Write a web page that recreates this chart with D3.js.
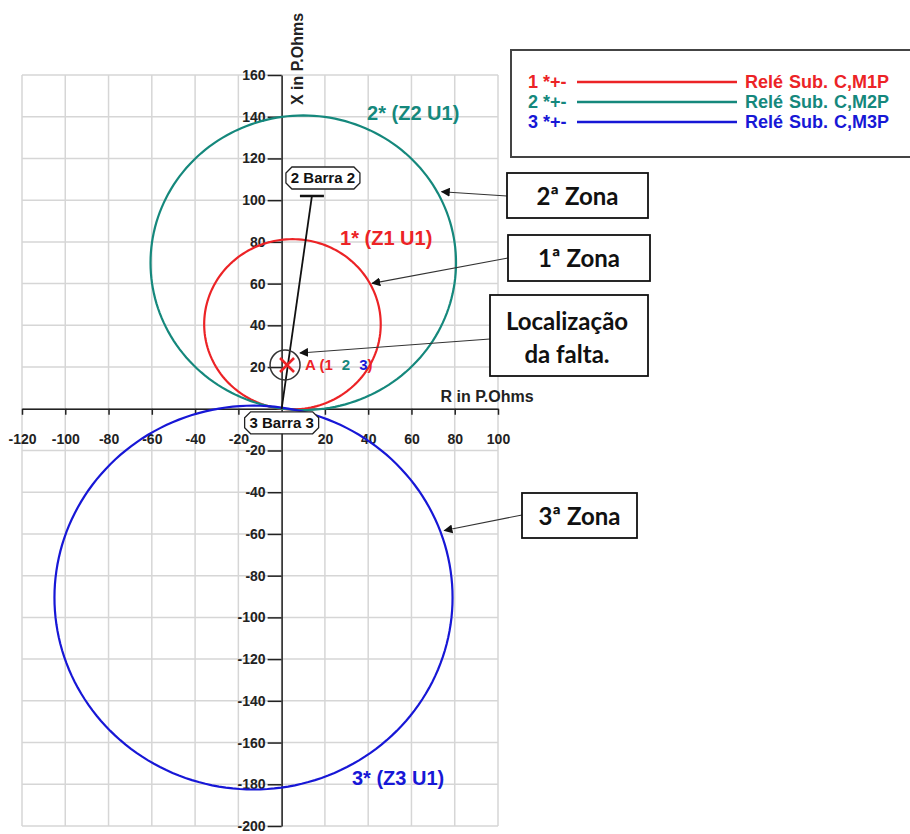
<!DOCTYPE html>
<html>
<head>
<meta charset="utf-8">
<script src="https://cdn.jsdelivr.net/npm/d3@7"></script>
<style>
  body { margin: 0; background: #fff; }
  svg { display: block; }
</style>
</head>
<body>
<div id="chart"></div>
<script>
// zone circles (mho characteristics), R / X in primary ohms
const zoneIds = ["1", "2", "3"];
const zoneLabels = ["1* (Z1 U1)", "2* (Z2 U1)", "3* (Z3 U1)"];
const centerR = [5, 10, -13];
const centerX = [40.5, 70, -90.5];
const radii = [40.8, 70.6, 92];

// legend
const legendIds = ["1 *+-", "2 *+-", "3 *+-"];
const legendNames = ["Relé Sub. C,M1P", "Relé Sub. C,M2P", "Relé Sub. C,M3P"];

// buses and fault
const busNames = ["2 Barra 2", "3 Barra 3"];
const busR = [14, 0];
const busX = [102, 0];
const faultR = 2.5, faultX = 21;

// ticks
const xTicks = [-120, -100, -80, -60, -40, -20, 20, 40, 60, 80, 100];
const yTicks = [160, 140, 120, 100, 80, 60, 40, 20, -20, -40, -60, -80, -100, -120, -140, -160, -180, -200];
const gridX = d3.range(-120, 101, 20);
const gridY = d3.range(-200, 161, 20);

const colors = ["#ec2326", "#15887c", "#1717d6"];

const width = 910, height = 834;

const x = d3.scaleLinear().domain([-120, 100]).range([22, 498]);
const y = d3.scaleLinear().domain([-200, 160]).range([826, 75]);

const svg = d3.select("#chart")
  .append("svg")
  .attr("width", width)
  .attr("height", height)
  .attr("font-family", "'Liberation Sans', Arial, sans-serif");

svg.append("defs").append("marker")
  .attr("id", "arrow")
  .attr("viewBox", "0 0 10 10")
  .attr("refX", 9).attr("refY", 5)
  .attr("markerWidth", 9).attr("markerHeight", 9)
  .attr("markerUnits", "userSpaceOnUse")
  .attr("orient", "auto")
  .append("path")
  .attr("d", "M0,0L10,5L0,10Z")
  .attr("fill", "#111");

// grid
const grid = svg.append("g").attr("stroke", "#d6d6d6").attr("stroke-width", 1.5);
grid.selectAll("line.v").data(gridX).join("line")
  .attr("class", "v")
  .attr("x1", d => x(d)).attr("x2", d => x(d))
  .attr("y1", y(160)).attr("y2", y(-200));
grid.selectAll("line.h").data(gridY).join("line")
  .attr("class", "h")
  .attr("y1", d => y(d)).attr("y2", d => y(d))
  .attr("x1", x(-120)).attr("x2", x(100));

// axes
const xAxis = svg.append("g")
  .attr("transform", `translate(0,${y(0)})`)
  .call(d3.axisBottom(x).tickValues(xTicks).tickFormat(d => String(d))
    .tickSize(6).tickSizeOuter(0).tickPadding(19));
const yAxis = svg.append("g")
  .attr("transform", `translate(${x(0)},0)`)
  .call(d3.axisLeft(y).tickValues(yTicks).tickFormat(d => String(d))
    .tickSize(14).tickSizeOuter(0).tickPadding(2));

[xAxis, yAxis].forEach(a => {
  a.select(".domain").attr("stroke", "#222").attr("stroke-width", 1.5);
  a.selectAll(".tick line").attr("stroke", "#222").attr("stroke-width", 1.5);
  a.selectAll(".tick text")
    .attr("fill", "#222")
    .attr("font-size", 14)
    .attr("font-weight", "bold")
    .attr("font-family", "'Liberation Sans', Arial, sans-serif");
});

svg.append("text")
  .attr("transform", `translate(${x(0) + 21},59) rotate(-90)`)
  .attr("text-anchor", "middle")
  .attr("font-size", 16)
  .attr("font-weight", "bold")
  .attr("fill", "#222")
  .text("X in P.Ohms");

svg.append("text")
  .attr("x", 487).attr("y", 402)
  .attr("text-anchor", "middle")
  .attr("font-size", 16)
  .attr("font-weight", "bold")
  .attr("fill", "#222")
  .text("R in P.Ohms");

// zone circles, drawn as paths so the unequal axis scales are respected
const zones = zoneIds.map((id, i) => ({ id, cr: centerR[i], cx: centerX[i], r: radii[i], color: colors[i] }));
const circleLine = d3.line().x(d => x(d[0])).y(d => y(d[1])).curve(d3.curveLinearClosed);
const angles = d3.range(0, 360, 2).map(a => a * Math.PI / 180);

svg.append("g")
  .attr("fill", "none")
  .attr("stroke-width", 2.2)
  .selectAll("path")
  .data(zones)
  .join("path")
  .attr("stroke", d => d.color)
  .attr("d", d => circleLine(angles.map(a => [d.cr + d.r * Math.cos(a), d.cx + d.r * Math.sin(a)])));

// zone labels
const zoneLabelPos = [[27, 80], [39.5, 140], [32.5, -179]]; // R, X anchor for each label
svg.append("g")
  .attr("font-size", 20)
  .attr("font-weight", "bold")
  .selectAll("text")
  .data(zones)
  .join("text")
  .attr("x", (d, i) => x(zoneLabelPos[i][0]))
  .attr("y", (d, i) => y(zoneLabelPos[i][1]) + 3)
  .attr("fill", d => d.color)
  .text((d, i) => zoneLabels[i]);

// line from bus 2 to bus 3
svg.append("line")
  .attr("x1", x(busR[0])).attr("y1", y(busX[0]))
  .attr("x2", x(busR[1])).attr("y2", y(busX[1]))
  .attr("stroke", "#111").attr("stroke-width", 1.8);

svg.append("line")
  .attr("x1", x(busR[0]) - 12).attr("x2", x(busR[0]) + 12)
  .attr("y1", y(busX[0])).attr("y2", y(busX[0]))
  .attr("stroke", "#111").attr("stroke-width", 2.5);

// bus name tags (octagon-ish boxes)
const busOffset = [[11, -18], [0, 14]];
const tag = svg.append("g").selectAll("g")
  .data(busNames)
  .join("g")
  .attr("transform", (d, i) => `translate(${x(busR[i]) + busOffset[i][0]},${y(busX[i]) + busOffset[i][1]})`);
tag.append("path")
  .attr("d", "M-31,-11L31,-11L37,-5L37,5L31,11L-31,11L-37,5L-37,-5Z")
  .attr("fill", "#fff")
  .attr("stroke", "#222")
  .attr("stroke-width", 1.3);
tag.append("text")
  .attr("text-anchor", "middle")
  .attr("dy", "0.36em")
  .attr("font-size", 15)
  .attr("font-weight", "bold")
  .attr("fill", "#111")
  .text(d => d);

// fault marker
const fx = x(faultR), fy = y(faultX);
svg.append("circle")
  .attr("cx", fx - 2).attr("cy", fy)
  .attr("r", 15)
  .attr("fill", "none")
  .attr("stroke", "#333")
  .attr("stroke-width", 1.5);
svg.append("path")
  .attr("d", `M${fx - 7},${fy - 7}L${fx + 7},${fy + 7}M${fx - 7},${fy + 7}L${fx + 7},${fy - 7}`)
  .attr("stroke", colors[0])
  .attr("stroke-width", 2.6);

const faultText = svg.append("text")
  .attr("x", fx + 18).attr("y", fy + 5.5)
  .attr("font-size", 15)
  .attr("font-weight", "bold");
faultText.append("tspan").attr("fill", colors[0]).text("A (1");
faultText.append("tspan").attr("fill", colors[1]).attr("dx", 9).text("2");
faultText.append("tspan").attr("fill", colors[2]).attr("dx", 9).text("3");
faultText.append("tspan").attr("fill", colors[0]).text(")");

// legend
const legend = svg.append("g").attr("transform", "translate(511,50)");
legend.append("rect")
  .attr("width", 402).attr("height", 107)
  .attr("fill", "#fff")
  .attr("stroke", "#444")
  .attr("stroke-width", 2);
const rows = legend.selectAll("g.row")
  .data(legendIds)
  .join("g")
  .attr("class", "row")
  .attr("transform", (d, i) => `translate(0,${32 + i * 20})`);
rows.append("text")
  .attr("x", 17).attr("dy", "0.36em")
  .attr("font-size", 18).attr("font-weight", "bold")
  .attr("fill", (d, i) => colors[i])
  .text(d => d);
rows.append("line")
  .attr("x1", 66).attr("x2", 226)
  .attr("stroke", (d, i) => colors[i])
  .attr("stroke-width", 2.5);
rows.append("text")
  .attr("x", 234).attr("dy", "0.36em")
  .attr("font-size", 18).attr("font-weight", "bold")
  .attr("word-spacing", 1)
  .attr("fill", (d, i) => colors[i])
  .text((d, i) => legendNames[i]);

// annotation boxes with arrows pointing at the zones / fault
function onCircle(i, deg, pad) {
  const a = deg * Math.PI / 180;
  const px = x(centerR[i] + radii[i] * Math.cos(a)), py = y(centerX[i] + radii[i] * Math.sin(a));
  return [px + pad * Math.cos(a), py - pad * Math.sin(a)];
}
const notes = [
  { lines: ["2ª Zona"], box: [507, 173, 141, 45], from: [507, 196], to: onCircle(1, 28, 4) },
  { lines: ["1ª Zona"], box: [508, 235, 142, 46], from: [508, 258], to: onCircle(0, 28, 2) },
  { lines: ["Localização", "da falta."], box: [490, 295, 158, 81], from: [490, 339], to: [fx + 13, fy - 12] },
  { lines: ["3ª Zona"], box: [522, 493, 115, 45], from: [522, 515], to: onCircle(2, 20, 4) }
];
const note = svg.append("g").selectAll("g")
  .data(notes)
  .join("g");
note.append("line")
  .attr("x1", d => d.from[0]).attr("y1", d => d.from[1])
  .attr("x2", d => d.to[0]).attr("y2", d => d.to[1])
  .attr("stroke", "#333")
  .attr("stroke-width", 1.1)
  .attr("marker-end", "url(#arrow)");
note.append("rect")
  .attr("x", d => d.box[0]).attr("y", d => d.box[1])
  .attr("width", d => d.box[2]).attr("height", d => d.box[3])
  .attr("fill", "#fff")
  .attr("stroke", "#111")
  .attr("stroke-width", 1.8);
note.append("text")
  .attr("text-anchor", "middle")
  .attr("font-family", "Lato, 'Open Sans', sans-serif")
  .attr("font-size", 24)
  .attr("font-weight", "bold")
  .attr("fill", "#111")
  .selectAll("tspan")
  .data(d => d.lines.map((t, j) => ({ t, j, d })))
  .join("tspan")
  .attr("x", e => e.d.box[0] + e.d.box[2] / 2 + (e.d.lines.length > 1 ? -2 : 0))
  .attr("y", e => e.d.box[1] + (e.d.lines.length > 1 ? 35 + e.j * 33 : e.d.box[3] / 2 + 9))
  .text(e => e.t);
</script>
</body>
</html>
